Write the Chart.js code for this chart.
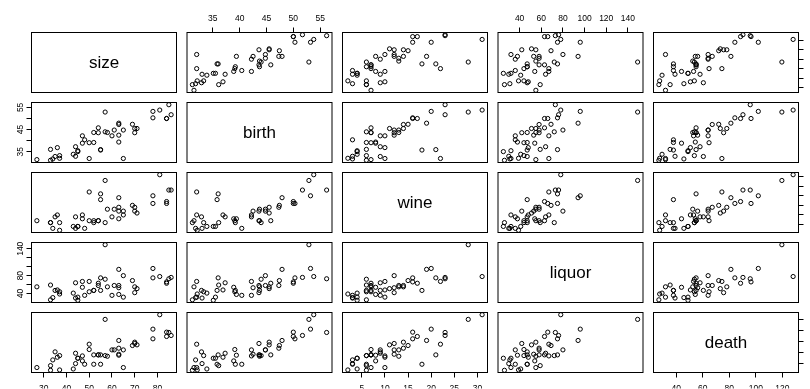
<!DOCTYPE html>
<html>
<head>
<meta charset="utf-8">
<script src="https://cdn.jsdelivr.net/npm/chart.js@4.4.1/dist/chart.umd.min.js"></script>
<style>
  html, body { margin: 0; padding: 0; background: #fff; }
  #wrap { position: relative; width: 810px; height: 389px; overflow: hidden; background: #fff; }
  #wrap canvas { position: absolute; left: 0; top: 0; }
</style>
</head>
<body>
<div id="wrap"></div>
<script>
// Cirrhosis data: urban population, late births, wine, liquor, death rate (46 states)
const size   = [27,33,33,34,35,36,37,37,43,44,44,45,45,47,47,48,50,50,52,52,54,54,55,55,57,57,58,60,61,63,63,63,63,65,65,69,70,70,71,78,78,81,84,84,85,86];
const birth  = [31.5,36.1,31.2,31.8,32.9,36.9,33.3,32.1,33.9,37.3,33.0,35.1,35.5,42.2,38.9,40.4,32.0,39.1,43.7,39.2,45.8,43.6,36.0,35.8,52.9,44.0,43.7,42.2,44.8,47.9,47.3,42.5,39.4,44.8,32.0,47.4,45.5,43.6,45.5,53.2,50.3,53.8,50.0,50.0,56.2,51.7];
const wine   = [7,6,6,3,9,10,6,2,4,9,3,4,4,10,8,3,22,7,7,6,7,7,21,18,28,6,13,9,13,19,14,12,8,12,10,15,14,12,11,20,16,31,17,16,23,23];
const liquor = [55,59,26,31,47,48,44,39,41,64,30,25,32,67,54,36,67,44,47,47,63,58,75,47,149,72,55,36,58,94,58,53,38,80,32,69,55,42,51,96,75,78,63,66,73,76];
const death  = [31.8,35.3,26.8,45.7,60.4,50.6,53.6,27.4,29.2,57.9,39.0,48.8,48.8,53.0,43.9,37.8,74.4,64.7,54.9,37.8,54.9,54.9,54.9,37.8,119.7,53.6,52.4,64.0,64.0,81.2,67.1,56.1,54.3,64.0,31.8,72.0,78.1,75.7,73.2,101.9,84.2,128.2,88.5,96.4,95.8,90.3];

const varNames = ['size', 'birth', 'wine', 'liquor', 'death'];

// Tick positions for each variable
const sizeTicks   = [30, 40, 50, 60, 70, 80];
const birthTicks  = [35, 40, 45, 50, 55];
const wineTicks   = [5, 10, 15, 20, 25, 30];
const liquorTicks = [40, 60, 80, 100, 120, 140];
const deathTicks  = [40, 60, 80, 100, 120];

// Labels kept on the crowded vertical (left) axes
const birthLeftLabels  = [35, 45, 55];
const liquorLeftLabels = [40, 80, 140];

const columns  = [size, birth, wine, liquor, death];
const tickSets = [sizeTicks, birthTicks, wineTicks, liquorTicks, deathTicks];
const leftLabelSets = { 1: birthLeftLabels, 3: liquorLeftLabels };

// Page / panel geometry
const W = 810, H = 389;
const firstLeft = 31.5, colStep = 155.5, boxW = 145;
const firstTop = 32.5, rowStep = 70, boxH = 60;
const AX_TOP = 20, AX_BOTTOM = 16, AX_LEFT = 20, AX_RIGHT = 11;
const FONT = "'Liberation Sans', Arial, Helvetica, sans-serif";
const TICK_FONT = { family: FONT, size: 8.5 };

function paddedRange(arr) {
  const lo = Math.min(...arr), hi = Math.max(...arr);
  const d = (hi - lo) * 0.04;
  return [lo - d, hi + d];
}
const ranges = columns.map(paddedRange);

// Frame around each panel and the variable name on the diagonal
const panelFrame = {
  id: 'panelFrame',
  afterDraw(chart, args, opts) {
    const a = chart.chartArea, ctx = chart.ctx;
    ctx.save();
    ctx.strokeStyle = '#000';
    ctx.lineWidth = 1;
    ctx.strokeRect(a.left, a.top, a.right - a.left, a.bottom - a.top);
    if (opts && opts.text) {
      ctx.fillStyle = '#000';
      ctx.font = '17px ' + FONT;
      ctx.textAlign = 'center';
      ctx.textBaseline = 'middle';
      ctx.fillText(opts.text, (a.left + a.right) / 2, (a.top + a.bottom) / 2 + 1);
    }
    ctx.restore();
  }
};

function scaleConfig(v, position, shown, horizontal) {
  const [min, max] = ranges[v];
  const cfg = {
    type: 'linear',
    position: position,
    display: shown,
    min: min,
    max: max,
    afterBuildTicks: (s) => { s.ticks = tickSets[v].map((value) => ({ value })); },
    grid: { display: true, drawOnChartArea: false, drawTicks: true, tickLength: 5, color: '#000', lineWidth: 1 },
    border: { display: false },
    ticks: { autoSkip: false, font: TICK_FONT, color: '#000', padding: 4, maxRotation: 0, minRotation: 0 }
  };
  if (shown) {
    const thick = position === 'top' ? AX_TOP : position === 'bottom' ? AX_BOTTOM : position === 'left' ? AX_LEFT : AX_RIGHT;
    cfg.afterFit = (s) => {
      if (horizontal) s.height = thick; else s.width = thick;
      s.paddingLeft = s.paddingRight = s.paddingTop = s.paddingBottom = 0;
    };
    if (position === 'bottom') cfg.ticks.padding = 6.5;
    // right-side labels sit past the page edge
    if (position === 'right') cfg.ticks.padding = 9;
    if (position === 'left') {
      const keep = leftLabelSets[v];
      cfg.ticks.minRotation = 90;
      cfg.ticks.maxRotation = 90;
      cfg.ticks.crossAlign = 'center';
      cfg.ticks.padding = v === 3 ? -1 : 1;
      cfg.ticks.callback = (value) => (keep && !keep.includes(value)) ? '' : String(value);
    }
  }
  return cfg;
}

function makePanel(i, j) {
  const canvas = document.createElement('canvas');
  canvas.width = W;
  canvas.height = H;
  document.getElementById('wrap').appendChild(canvas);

  const boxL = firstLeft + colStep * j, boxR = boxL + boxW;
  const boxT = firstTop + rowStep * i, boxB = boxT + boxH;

  const showTop = i === 0 && j % 2 === 1;
  const showBottom = i === 4 && j % 2 === 0;
  const showLeft = j === 0 && i % 2 === 1;
  const showRight = j === 4 && i % 2 === 0;

  const diag = i === j;
  const points = diag ? [] : columns[j].map((x, k) => ({ x: x, y: columns[i][k] }));

  const xPos = showTop ? 'top' : 'bottom';
  const yPos = showRight ? 'right' : 'left';

  new Chart(canvas, {
    type: 'scatter',
    data: {
      datasets: [{
        data: points,
        pointStyle: 'circle',
        pointRadius: 2.1,
        pointBorderWidth: 1,
        pointBorderColor: '#000',
        pointBackgroundColor: 'rgba(0,0,0,0)',
        borderColor: '#000',
        backgroundColor: 'rgba(0,0,0,0)',
        showLine: false,
        clip: false
      }]
    },
    options: {
      responsive: false,
      devicePixelRatio: 1,
      animation: false,
      events: [],
      layout: {
        padding: {
          left: boxL - (showLeft ? AX_LEFT : 0),
          right: W - boxR - (showRight ? AX_RIGHT : 0),
          top: boxT - (showTop ? AX_TOP : 0),
          bottom: H - boxB - (showBottom ? AX_BOTTOM : 0)
        }
      },
      scales: {
        x: scaleConfig(j, xPos, showTop || showBottom, true),
        y: scaleConfig(i, yPos, showLeft || showRight, false)
      },
      plugins: {
        legend: { display: false },
        tooltip: { enabled: false },
        panelFrame: { text: diag ? varNames[i] : '' }
      }
    },
    plugins: [panelFrame]
  });
}

for (let i = 0; i < 5; i++) {
  for (let j = 0; j < 5; j++) {
    makePanel(i, j);
  }
}
</script>
</body>
</html>
